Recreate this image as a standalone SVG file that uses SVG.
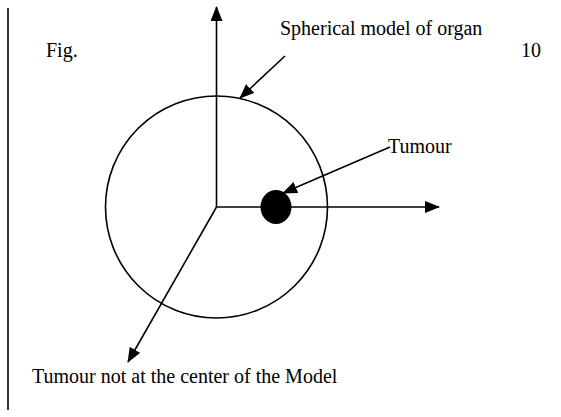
<svg xmlns="http://www.w3.org/2000/svg" width="561" height="417" viewBox="0 0 561 417">
<style>
.ln{stroke:#000;stroke-width:1.6;fill:none}
.t{font-family:"Liberation Serif","Times New Roman",serif;font-size:20px;fill:#000}
</style>
<defs>
<marker id="ah" viewBox="0 0 15 12" refX="14" refY="6" markerWidth="15" markerHeight="12" markerUnits="userSpaceOnUse" orient="auto">
<path d="M0,0 L15,6 L0,12 Z" fill="#000"/>
</marker>
</defs>
<rect width="561" height="417" fill="#fff"/>
<line x1="8" y1="8" x2="8" y2="410" class="ln"/>
<g id="organ">
<circle cx="216.5" cy="207" r="111" class="ln"/>
</g>
<g id="tumour">
<ellipse cx="276" cy="207" rx="15.5" ry="17" fill="#000"/>
</g>
<g id="connectors">
<line x1="216.5" y1="207" x2="216.5" y2="7" class="ln" marker-end="url(#ah)"/>
<line x1="216.5" y1="207" x2="439" y2="207" class="ln" marker-end="url(#ah)"/>
<line x1="216.5" y1="207" x2="128" y2="362" class="ln" marker-end="url(#ah)"/>
<line x1="285" y1="56" x2="240" y2="98" class="ln" marker-end="url(#ah)"/>
<line x1="390" y1="147" x2="283" y2="193" class="ln" marker-end="url(#ah)"/>
</g>
<g id="labels">
<text class="t" x="46" y="57">Fig.</text>
<text class="t" x="521" y="57">10</text>
<text class="t" x="280" y="35">Spherical model of organ</text>
<text class="t" x="388" y="153">Tumour</text>
<text class="t" x="32" y="383">Tumour not at the center of the Model</text>
</g>
</svg>
